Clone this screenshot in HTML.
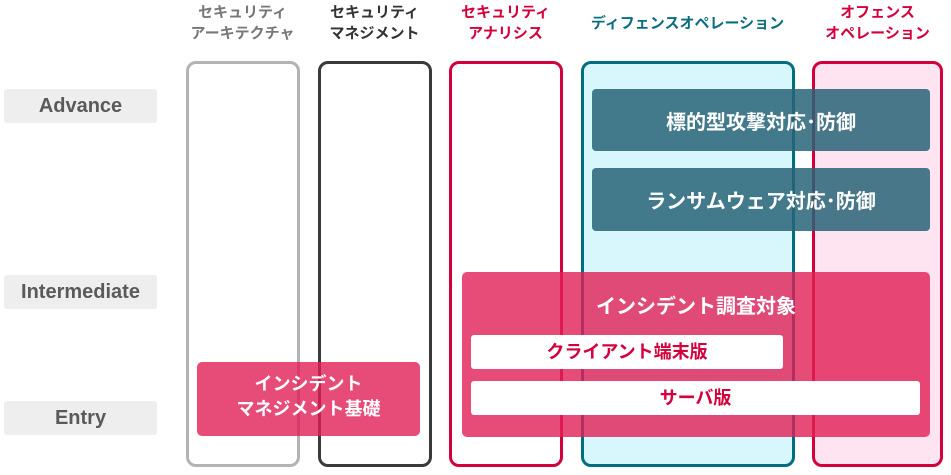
<!DOCTYPE html>
<html><head><meta charset="utf-8"><style>
body{margin:0;width:951px;height:475px;background:#fff;position:relative;overflow:hidden;font-family:"Liberation Sans","Noto Sans CJK JP",sans-serif;font-weight:bold}
div{position:absolute;box-sizing:border-box}
.h{text-align:center;font-size:15px;line-height:21px;top:2px}
.col{top:61px;height:406px;border:3px solid;border-radius:10px}
.lv{left:4px;width:153px;background:#eeeeee;border-radius:3px;color:#5a5a5a;font-size:20px;text-align:center;line-height:34px;height:34px}
.t{background:rgba(40,100,120,0.85);border-radius:4px;color:#fff;font-size:20px;text-align:center;display:flex;align-items:center;justify-content:center}
.p{background:rgba(225,30,85,0.8);border-radius:5px;color:#fff}
.w{background:#fff;border-radius:3px;color:#d4003c;font-size:18px;text-align:center;line-height:34px;height:34px}
</style></head><body>
<div class="h" style="left:170px;width:145px;color:#777">セキュリティ<br>アーキテクチャ</div>
<div class="h" style="left:302px;width:145px;color:#333">セキュリティ<br>マネジメント</div>
<div class="h" style="left:433px;width:145px;color:#d4003c">セキュリティ<br>アナリシス</div>
<div class="h" style="left:581px;width:213px;color:#0a6e82;top:13px">ディフェンスオペレーション</div>
<div class="h" style="left:805px;width:145px;color:#d4003c">オフェンス<br>オペレーション</div>

<div class="lv" style="top:89px">Advance</div>
<div class="lv" style="top:275px">Intermediate</div>
<div class="lv" style="top:401px">Entry</div>

<div class="col" style="left:186px;width:114px;border-color:#b2b3b7"></div>
<div class="col" style="left:318px;width:114px;border-color:#3a3a3c"></div>
<div class="col" style="left:449px;width:114px;border-color:#d4003c"></div>
<div class="col" style="left:581px;width:214px;border-color:#006e82;background:#d8f7fc"></div>
<div class="col" style="left:812px;width:131px;border-color:#d4003c;background:#fde4f0"></div>

<div class="t" style="left:592px;top:89px;width:338px;height:62px">標的型攻撃対応･防御</div>
<div class="t" style="left:592px;top:168px;width:338px;height:63px">ランサムウェア対応･防御</div>

<div class="p" style="left:462px;top:272px;width:468px;height:165px"></div>
<div style="left:462px;top:290px;width:468px;text-align:center;color:#fff;font-size:20px">インシデント調査対象</div>
<div class="w" style="left:471px;top:335px;width:312px">クライアント端末版</div>
<div class="w" style="left:471px;top:381px;width:449px">サーバ版</div>

<div class="p" style="left:197px;top:362px;width:223px;height:74px;text-align:center;font-size:18px;line-height:25px;padding-top:10px">インシデント<br>マネジメント基礎</div>
</body></html>
